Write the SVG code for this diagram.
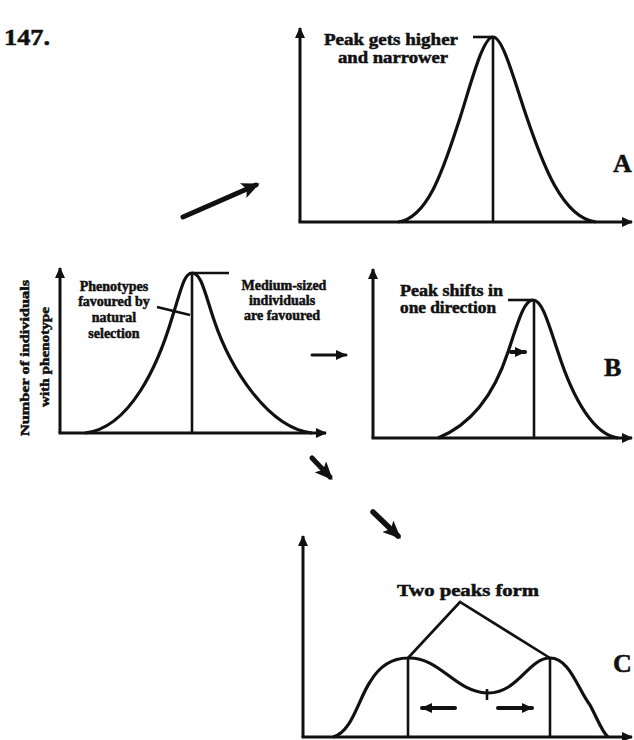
<svg xmlns="http://www.w3.org/2000/svg" width="634" height="740" viewBox="0 0 634 740">
<style>
.ax{stroke:#111;stroke-width:3;fill:none}
.cv{stroke:#111;stroke-width:3.2;fill:none;stroke-linejoin:round}
.ln{stroke:#111;stroke-width:2.6;fill:none}
.t{font-family:"Liberation Serif","Times New Roman",serif;font-weight:bold;fill:#111;stroke:#111;stroke-width:0.5}
.lbl{font-size:14px}
.big{font-size:23px}
.let{font-size:26px}
.ar{stroke:#111;fill:none;stroke-linecap:round}
</style>
<defs>
<marker id="ah" markerUnits="userSpaceOnUse" markerWidth="11" markerHeight="10" refX="10" refY="5" orient="auto">
<path d="M0,0 L11,5 L0,10 z" fill="#111"/>
</marker>
<marker id="bh" markerUnits="userSpaceOnUse" markerWidth="18" markerHeight="16" refX="14" refY="8" orient="auto">
<path d="M0,0 L18,8 L0,16 L4,8 z" fill="#111"/>
</marker>
</defs>
<rect width="634" height="740" fill="#fff"/>

<g id="header">
<text class="t big" x="4" y="45" textLength="46" lengthAdjust="spacingAndGlyphs">147.</text>
</g>

<g id="graph-main">
<path class="ax" d="M60,433 L60,268" marker-end="url(#ah)"/>
<path class="ax" d="M58.5,433 L326,433" marker-end="url(#ah)"/>
<path class="cv" d="M85,433 C130,428 158,365 172,318 C181,290 184,273 192,273 C201,273 204,290 214,320 C230,368 268,428 312,433"/>
<line class="ln" x1="192" y1="273" x2="192" y2="433"/>
<line class="ln" x1="192" y1="273" x2="229" y2="273"/>
<line class="ln" x1="157" y1="307" x2="190" y2="315"/>
<text class="t lbl" text-anchor="middle"><tspan x="114" y="291">Phenotypes</tspan><tspan x="114" y="306">favoured by</tspan><tspan x="114" y="322">natural</tspan><tspan x="114" y="338">selection</tspan></text>
<text class="t lbl" text-anchor="middle"><tspan x="284" y="290">Medium-sized</tspan><tspan x="282" y="305">individuals</tspan><tspan x="282" y="320">are favoured</tspan></text>
<text class="t" font-size="12.5" text-anchor="middle" transform="translate(29,358) rotate(-90)" textLength="156" lengthAdjust="spacingAndGlyphs">Number of individuals</text>
<text class="t" font-size="12.5" text-anchor="middle" transform="translate(49,357) rotate(-90)" textLength="100" lengthAdjust="spacingAndGlyphs">with phenotype</text>
</g>

<g id="graph-A">
<path class="ax" d="M300,222 L300,28" marker-end="url(#ah)"/>
<path class="ax" d="M298.5,222 L632,222" marker-end="url(#ah)"/>
<path class="cv" d="M398,222 C430,218 446,160 460,118 C472,80 483,37 493,37 C503,37 514,80 527,118 C542,162 562,218 596,222"/>
<line class="ln" x1="493" y1="38" x2="493" y2="222"/>
<line class="ln" x1="473" y1="37" x2="493" y2="37"/>
<text class="t" font-size="16.5" text-anchor="middle"><tspan x="391" y="45" textLength="134" lengthAdjust="spacingAndGlyphs">Peak gets higher</tspan><tspan x="393" y="63" textLength="110" lengthAdjust="spacingAndGlyphs">and narrower</tspan></text>
<text class="t let" x="613" y="172">A</text>
</g>

<g id="graph-B">
<path class="ax" d="M373,438 L373,269" marker-end="url(#ah)"/>
<path class="ax" d="M371.5,438 L632,438" marker-end="url(#ah)"/>
<path class="cv" d="M438,438 C470,425 494,395 508,352 C518,322 524,300 533,300 C542,300 548,322 558,352 C574,402 595,435 618,438"/>
<line class="ln" x1="534" y1="300" x2="534" y2="438"/>
<line class="ln" x1="508" y1="300" x2="533" y2="300"/>
<text class="t" font-size="16"><tspan x="400" y="296" textLength="103" lengthAdjust="spacingAndGlyphs">Peak shifts in</tspan><tspan x="400" y="313" textLength="96" lengthAdjust="spacingAndGlyphs">one direction</tspan></text>
<path class="ar" stroke-width="4" d="M511,352 L525,352" marker-end="url(#ah)"/>
<text class="t let" x="604" y="376">B</text>
</g>

<g id="graph-C">
<path class="ax" d="M303,737 L303,536" marker-end="url(#ah)"/>
<path class="ax" d="M301.5,737 L632,737" marker-end="url(#ah)"/>
<path class="cv" d="M333,737 C352,732 358,700 370,682 C380,665 393,658 408,658 C440,657 455,692 487,693 C518,694 528,658 550,658 C570,658 578,690 590,705 C598,720 602,732 608,737"/>
<line class="ln" x1="408" y1="658" x2="408" y2="737"/>
<line class="ln" x1="550" y1="658" x2="550" y2="737"/>
<line class="ln" x1="487" y1="689" x2="487" y2="700"/>
<path class="ln" d="M408,658 L460,602 L550,658"/>
<text class="t" font-size="16" x="468" y="596" text-anchor="middle" textLength="142" lengthAdjust="spacingAndGlyphs">Two peaks form</text>
<path class="ar" stroke-width="4" d="M455,708 L422,708" marker-end="url(#ah)"/>
<path class="ar" stroke-width="4" d="M498,708 L532,708" marker-end="url(#ah)"/>
<text class="t let" x="613" y="672">C</text>
</g>

<g id="connectors">
<path class="ar" stroke-width="5" d="M183,217 L256,185" marker-end="url(#bh)"/>
<path class="ar" stroke-width="3" d="M312,355 L346,355" marker-end="url(#ah)"/>
<path class="ar" stroke-width="5" d="M312,458 L330,477" marker-end="url(#bh)"/>
<path class="ar" stroke-width="5.5" d="M373,512 L398,536" marker-end="url(#bh)"/>
</g>
</svg>
